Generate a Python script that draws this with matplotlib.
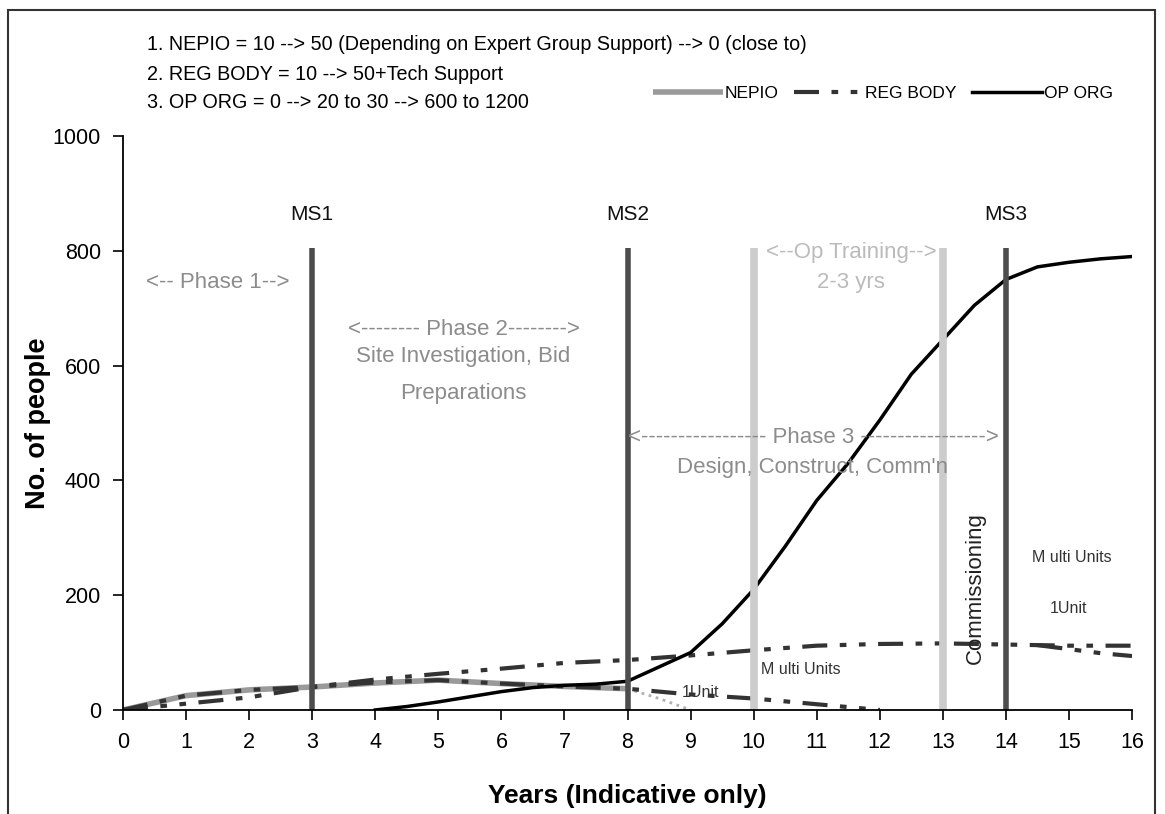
import matplotlib
matplotlib.use("Agg")
import matplotlib.pyplot as plt
from matplotlib.patches import Rectangle

plt.rcParams['font.family'] = ['Liberation Sans', 'DejaVu Sans']

# data
years_nepio = [0, 1, 2, 3, 4, 5, 6, 7, 8]
nepio = [0, 25, 35, 40, 47, 52, 46, 41, 37]
years_nepio_end = [8, 8.5, 9]
nepio_end = [37, 20, 0]

years_reg = [0, 1, 2, 3, 4, 5, 6, 7, 8, 9, 10, 11, 12, 13, 14, 15, 16]
reg_multi = [0, 11, 22, 40, 53, 63, 72, 82, 87, 95, 104, 112, 115, 116, 114, 112, 112]
years_reg_1 = [0, 1, 2, 3, 4, 5, 6, 7, 8, 9, 10, 11, 12]
reg_one = [0, 25, 35, 40, 48, 52, 46, 41, 37, 27, 20, 10, 0]
years_reg_end = [14.5, 15, 15.5, 16]
reg_end = [113, 106, 99, 94]

years_op = [4, 4.5, 5, 5.5, 6, 6.5, 7, 7.5, 8, 8.5, 9, 9.5, 10, 10.5, 11, 11.5,
            12, 12.5, 13, 13.5, 14, 14.5, 15, 15.5, 16]
op_org = [0, 6, 14, 23, 32, 39, 43, 45, 50, 75, 100, 150, 210, 285, 365, 430,
          505, 585, 645, 705, 750, 772, 780, 786, 790]

milestones = [3, 8, 14]
ms_labels = ['MS1', 'MS2', 'MS3']
training = [10, 13]

fig = plt.figure(figsize=(11.65, 8.14), dpi=100)
ax = fig.add_axes([0.1056, 0.1278, 0.8661, 0.7051])

reg_style = (0, (6, 3, 1.6, 3, 1.6, 3))

ax.plot(years_nepio, nepio, color='#9a9a9a', lw=4, solid_capstyle='butt', label='NEPIO')
ax.plot(years_nepio_end, nepio_end, color='#b0b0b0', lw=2, ls=':')
ax.plot(years_reg, reg_multi, color='#333333', lw=3, ls=reg_style, label='REG BODY')
ax.plot(years_reg_1, reg_one, color='#333333', lw=3, ls=reg_style)
ax.plot(years_reg_end, reg_end, color='#333333', lw=3, ls=reg_style)
ax.plot(years_op, op_org, color='black', lw=2.5, label='OP ORG')

for x, lab in zip(milestones, ms_labels):
    ax.plot([x, x], [0, 805], color='#4d4d4d', lw=4, solid_capstyle='butt')
    ax.text(x, 864, lab, ha='center', va='center', fontsize=15, color='#111111')
for x in training:
    ax.plot([x, x], [0, 805], color='#cccccc', lw=5.5, solid_capstyle='butt')

grey = '#8c8c8c'
big = 16
ax.text(1.5, 745, '<-- Phase 1-->', ha='center', va='center', fontsize=big, color=grey)
ax.text(5.4, 663, '<-------- Phase 2-------->', ha='center', va='center', fontsize=big, color=grey)
ax.text(5.4, 615, 'Site Investigation, Bid', ha='center', va='center', fontsize=big, color=grey)
ax.text(5.4, 552, 'Preparations', ha='center', va='center', fontsize=big, color=grey)
ax.text(11.55, 797, '<--Op Training-->', ha='center', va='center', fontsize=big, color='#bbbbbb')
ax.text(11.55, 745, '2-3 yrs', ha='center', va='center', fontsize=big, color='#bbbbbb')
ax.text(10.94, 474, '<----------------- Phase 3 ----------------->', ha='center', va='center',
        fontsize=big, color=grey)
ax.text(10.94, 422, "Design, Construct, Comm'n", ha='center', va='center', fontsize=big, color=grey)
ax.text(13.52, 213, 'Commissioning', ha='center', va='center', rotation=90, fontsize=16,
        color='#222222')

small = '#333333'
ax.text(15.05, 265, 'M ulti Units', ha='center', va='center', fontsize=11.5, color=small)
ax.text(15.0, 176, '1Unit', ha='center', va='center', fontsize=11.5, color=small)
ax.text(10.75, 70, 'M ulti Units', ha='center', va='center', fontsize=11.5, color=small)
ax.text(9.15, 30, '1Unit', ha='center', va='center', fontsize=11.5, color=small)

ax.set_xlim(0, 16)
ax.set_ylim(0, 1000)
ax.set_xticks(range(0, 17))
ax.set_yticks(range(0, 1001, 200))
ax.tick_params(direction='out', length=7, width=1.2, labelsize=15.5, pad=9)
ax.spines['top'].set_visible(False)
ax.spines['right'].set_visible(False)
ax.spines['left'].set_linewidth(1.3)
ax.spines['bottom'].set_linewidth(1.3)
ax.set_xlabel('Years (Indicative only)', fontsize=19, fontweight='bold', labelpad=22)
ax.set_ylabel('No. of people', fontsize=19.5, fontweight='bold', labelpad=1)

notes = ['1. NEPIO = 10 --> 50 (Depending on Expert Group Support) --> 0 (close to)',
         '2. REG BODY = 10 --> 50+Tech Support',
         '3. OP ORG = 0 --> 20 to 30 --> 600 to 1200']
for i, n in enumerate(notes):
    fig.text(147 / 1165, 1 - (45 + 29 * i) / 814, n, ha='left', va='center', fontsize=14.2)

fig.legend(loc='center', bbox_to_anchor=(0.758, 0.885), ncol=3, frameon=False,
           fontsize=12.5, handlelength=4.0, handletextpad=0.1, columnspacing=0.9)

fig.patches.append(Rectangle((8 / 1165, -0.05), 1147 / 1165, 1.05 - 10 / 814,
                             transform=fig.transFigure, fill=False, ec='#333333', lw=1.5))

fig.savefig('out.png', dpi=100)
